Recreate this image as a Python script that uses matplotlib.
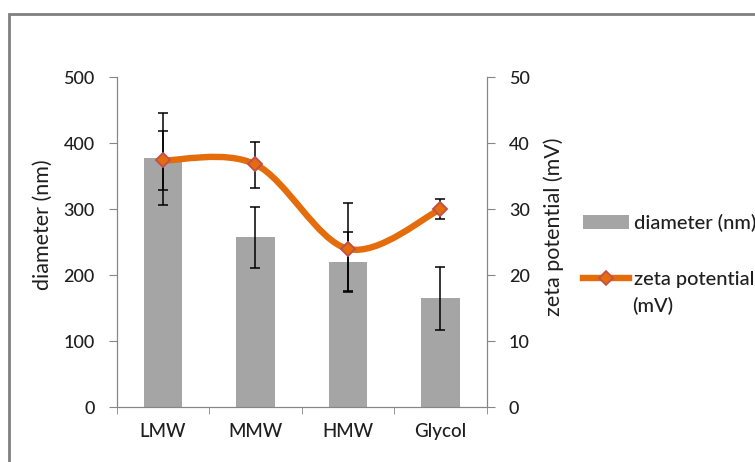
import numpy as np
import matplotlib
matplotlib.use('Agg')
import matplotlib.pyplot as plt
from matplotlib.path import Path
from matplotlib.patches import PathPatch, Rectangle, Patch
from matplotlib.lines import Line2D

plt.rcParams['font.family'] = ['Lato', 'DejaVu Sans']
plt.rcParams['font.weight'] = 'medium'

categories = ['LMW', 'MMW', 'HMW', 'Glycol']

# particle diameter (nm), with lower / upper error
diameter = [377, 258, 220, 165]
diameter_err_low = [71, 47, 44, 48]
diameter_err_high = [69, 46, 89, 47]

# zeta potential (mV), with lower / upper error
zeta = [37.4, 36.8, 24.0, 30.0]
zeta_err_low = [4.5, 3.6, 6.6, 1.5]
zeta_err_high = [4.4, 3.4, 2.5, 1.5]

BAR_COLOR = '#a5a5a5'
LINE_COLOR = '#e46c0a'
EDGE_COLOR = '#c0504d'
AXIS_COLOR = '#868686'
TEXT_COLOR = '#1f1f1f'


def smooth_path(xs, ys):
    # bezier segments like a spreadsheet "smoothed line"
    pts = np.column_stack([xs, ys]).astype(float)
    n = len(pts)
    verts = [pts[0]]
    codes = [Path.MOVETO]
    for i in range(n - 1):
        p0 = pts[i - 1] if i > 0 else pts[i]
        p1 = pts[i]
        p2 = pts[i + 1]
        p3 = pts[i + 2] if i + 2 < n else pts[i + 1]
        c1 = p1 + (p2 - p0) / 6.0
        c2 = p2 - (p3 - p1) / 6.0
        verts += [c1, c2, p2]
        codes += [Path.CURVE4] * 3
    return Path(verts, codes)


fig = plt.figure(figsize=(7.55, 4.62), dpi=100)
ax = fig.add_axes([0.1546, 0.1184, 0.49, 0.7143])
ax2 = ax.twinx()

x = np.arange(len(categories))

ax.bar(x, diameter, width=0.42, color=BAR_COLOR, zorder=2)
ax.errorbar(x, diameter, yerr=[diameter_err_low, diameter_err_high],
            fmt='none', ecolor='black', elinewidth=1.1, capsize=3.6,
            capthick=1.1, zorder=3)

ax2.errorbar(x, zeta, yerr=[zeta_err_low, zeta_err_high],
             fmt='none', ecolor='black', elinewidth=1.1, capsize=3.6,
             capthick=1.1, zorder=2)
curve = PathPatch(smooth_path(x, zeta), facecolor='none', edgecolor=LINE_COLOR,
                  lw=4.6, capstyle='round', joinstyle='round', zorder=3)
ax2.add_patch(curve)
ax2.plot(x, zeta, linestyle='none', marker='D', ms=7, mfc=LINE_COLOR,
         mec=EDGE_COLOR, mew=1.4, zorder=4)

ax.set_xlim(-0.5, len(categories) - 0.5)
ax.set_ylim(0, 500)
ax2.set_ylim(0, 50)
ax.set_yticks(np.arange(0, 501, 100))
ax2.set_yticks(np.arange(0, 51, 10))
ax.set_xticks(x)
ax.set_xticklabels(categories)
ax.set_xticks(np.arange(-0.5, len(categories), 1), minor=True)

for a in (ax, ax2):
    for side in a.spines:
        a.spines[side].set_color(AXIS_COLOR)
    a.spines['top'].set_visible(False)

ax.tick_params(axis='x', which='major', length=0, pad=11, labelsize=13.5,
               colors=TEXT_COLOR)
ax.tick_params(axis='x', which='minor', length=5, color=AXIS_COLOR,
               direction='out')
ax.tick_params(axis='y', length=6, color=AXIS_COLOR, pad=10, labelsize=13,
               labelcolor=TEXT_COLOR)
ax2.tick_params(axis='y', length=6, color=AXIS_COLOR, pad=10, labelsize=13,
                labelcolor=TEXT_COLOR)

ax.set_ylabel('diameter (nm)', fontsize=15.5, color=TEXT_COLOR)
ax.yaxis.set_label_coords(-0.172, 0.552)
ax2.set_ylabel('zeta potential (mV)', fontsize=15.5, color=TEXT_COLOR)
ax2.yaxis.set_label_coords(1.153, 0.548)

handles = [Patch(facecolor=BAR_COLOR, edgecolor='none'),
           Line2D([], [], color=LINE_COLOR, lw=4.6, marker='D', ms=7,
                  mfc=LINE_COLOR, mec=EDGE_COLOR, mew=1.2)]
fig.legend(handles, ['diameter (nm)', 'zeta potential'], loc='upper left',
           bbox_to_anchor=(0.772, 0.537), frameon=False, fontsize=14.4,
           handlelength=2.3, handletextpad=0.25, labelspacing=1.95,
           borderpad=0, borderaxespad=0, labelcolor=TEXT_COLOR)
fig.text(0.837, 0.338, '(mV)', fontsize=14.4, color=TEXT_COLOR,
         ha='left', va='center')

# outer chart frame
fig.patches.append(Rectangle((0.0115, -0.05), 1.2, 1.0197, fill=False,
                             edgecolor='#7f7f7f', lw=2,
                             transform=fig.transFigure, figure=fig))

fig.savefig('out.png', dpi=100)
